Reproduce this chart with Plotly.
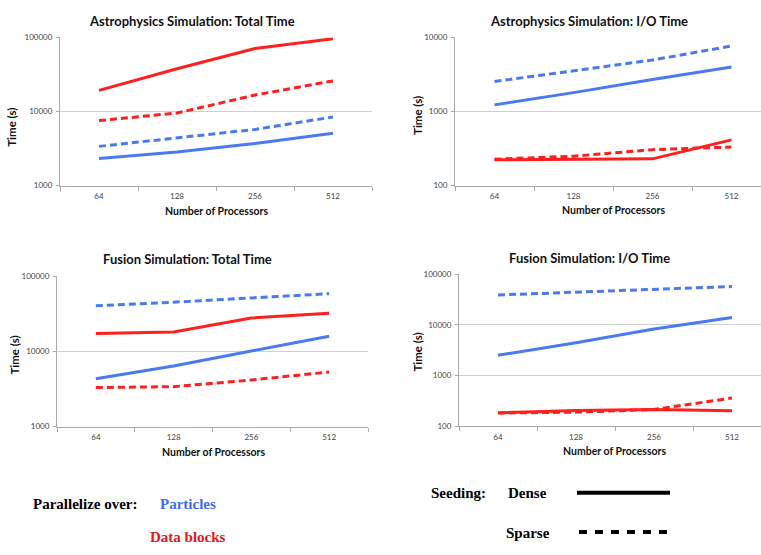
import plotly.graph_objects as go

processors = ["64", "128", "256", "512"]

# Astrophysics: Total Time
astro_total_particles_dense = [2330, 2850, 3720, 5090]
astro_total_particles_sparse = [3390, 4370, 5740, 8450]
astro_total_blocks_dense = [19300, 37700, 70800, 96000]
astro_total_blocks_sparse = [7550, 9550, 16700, 25900]

# Astrophysics: I/O Time
astro_io_particles_dense = [1230, 1800, 2700, 4000]
astro_io_particles_sparse = [2540, 3580, 4950, 7670]
astro_io_blocks_dense = [223, 226, 230, 415]
astro_io_blocks_sparse = [228, 250, 306, 332]

# Fusion: Total Time
fusion_total_particles_dense = [4310, 6370, 10100, 15800]
fusion_total_particles_sparse = [40300, 44900, 51200, 58200]
fusion_total_blocks_dense = [17200, 18100, 27700, 32000]
fusion_total_blocks_sparse = [3300, 3390, 4150, 5320]

# Fusion: I/O Time
fusion_io_particles_dense = [2510, 4430, 8260, 13900]
fusion_io_particles_sparse = [38700, 43600, 49700, 56800]
fusion_io_blocks_dense = [185, 204, 214, 202]
fusion_io_blocks_sparse = [182, 190, 214, 360]

titles = ["Astrophysics Simulation: Total Time", "Astrophysics Simulation: I/O Time",
          "Fusion Simulation: Total Time", "Fusion Simulation: I/O Time"]

BLUE = "#4a7af0"
RED = "#ff1f1f"
W, H = 761, 555

panels = [
    dict(data=[astro_total_particles_dense, astro_total_particles_sparse,
               astro_total_blocks_dense, astro_total_blocks_sparse],
         px=(60, 372), py=(33, 184), yr=(3, 5), xr=(-0.5, 3.5),
         title=(191.5, 16), ytitle=(12, 124), xtitle=(216, 210)),
    dict(data=[astro_io_particles_dense, astro_io_particles_sparse,
               astro_io_blocks_dense, astro_io_blocks_sparse],
         px=(455, 761), py=(33, 184), yr=(2, 4), xr=(-0.5, -0.5 + 306 / 79),
         title=(589, 16), ytitle=(418, 113), xtitle=(613, 209)),
    dict(data=[fusion_total_particles_dense, fusion_total_particles_sparse,
               fusion_total_blocks_dense, fusion_total_blocks_sparse],
         px=(57, 368), py=(276, 429.3), yr=(3, 5), xr=(-0.5, 3.5),
         title=(187.5, 259), ytitle=(15, 357), xtitle=(213, 455)),
    dict(data=[fusion_io_particles_dense, fusion_io_particles_sparse,
               fusion_io_blocks_dense, fusion_io_blocks_sparse],
         px=(459, 761), py=(274, 429), yr=(2, 5), xr=(-0.5, -0.5 + 302 / 78),
         title=(589.5, 258), ytitle=(418, 354), xtitle=(614, 454)),
]

fig = go.Figure()
annotations = []
TITLE_FONT = dict(family="Lato", size=13, color="#111")
AXT_FONT = dict(family="Lato", size=10.5, color="#111")
YT_FONT = dict(family="Lato", size=11.5, color="#111")
TICK_FONT = dict(family="Lato", size=8, color="#444")

def px2x(x):
    return x / W

def px2y(y):
    return 1 - y / H

for i, p in enumerate(panels):
    n = "" if i == 0 else str(i + 1)
    styles = [(BLUE, "solid"), (BLUE, "7px,4px"), (RED, "solid"), (RED, "7px,4px")]
    for vals, (c, d) in zip(p["data"], styles):
        fig.add_trace(go.Scatter(x=processors, y=vals, mode="lines",
                                 line=dict(color=c, width=3, dash=d),
                                 xaxis="x" + n, yaxis="y" + n, showlegend=False,
                                 cliponaxis=False))
    lo, hi = p["yr"]
    tv = [10 ** k for k in range(lo, hi + 1)]
    fig.layout["xaxis" + n] = dict(
        type="category", domain=[px2x(p["px"][0]), min(1, px2x(p["px"][1]))],
        range=list(p["xr"]), anchor="y" + n, tickson="boundaries", ticks="outside",
        ticklen=4, tickcolor="#aaa", showline=True, linecolor="#aaa", linewidth=1,
        showgrid=False, tickfont=TICK_FONT, zeroline=False, fixedrange=True,
        ticklabelstandoff=3)
    fig.layout["yaxis" + n] = dict(
        type="log", domain=[px2y(p["py"][1]), px2y(p["py"][0])], range=[lo, hi],
        anchor="x" + n, tickvals=tv, ticktext=[str(v) for v in tv],
        ticks="outside", ticklen=3, tickcolor="#aaa", showline=True,
        linecolor="#aaa", linewidth=1, showgrid=True, gridcolor="#cfcfcf",
        gridwidth=1, tickfont=TICK_FONT, zeroline=False, fixedrange=True,
        ticklabelstandoff=2)
    annotations.append(dict(text="<b>" + titles[i] + "</b>", x=px2x(p["title"][0]),
                            y=px2y(p["title"][1]), xref="paper", yref="paper",
                            showarrow=False, font=TITLE_FONT, xanchor="center", yanchor="middle"))
    annotations.append(dict(text="<b>Time (s)</b>", x=px2x(p["ytitle"][0]),
                            y=px2y(p["ytitle"][1]), xref="paper", yref="paper",
                            showarrow=False, font=YT_FONT, textangle=-90,
                            xanchor="center", yanchor="middle"))
    annotations.append(dict(text="<b>Number of Processors</b>", x=px2x(p["xtitle"][0]),
                            y=px2y(p["xtitle"][1]), xref="paper", yref="paper",
                            showarrow=False, font=AXT_FONT, xanchor="center", yanchor="middle"))

LEG_FONT = "Liberation Serif"
legend_texts = [
    ("Parallelize over:", 31, 508, "#000"),
    ("Particles", 158, 508, "#3d6cf5"),
    ("Data blocks", 148, 542, "#e8141c"),
    ("Seeding:", 429, 497, "#000"),
    ("Dense", 506, 497, "#000"),
    ("Sparse", 504, 538, "#000"),
]
for t, x, y, c in legend_texts:
    annotations.append(dict(text="<b>" + t + "</b>", x=px2x(x), y=px2y(y),
                            xref="paper", yref="paper", showarrow=False,
                            xanchor="left", yanchor="middle",
                            font=dict(family=LEG_FONT, size=15, color=c)))

shapes = [
    dict(type="line", xref="paper", yref="paper", x0=px2x(577), x1=px2x(670),
         y0=px2y(496.7), y1=px2y(496.7), line=dict(color="#000", width=4)),
    dict(type="line", xref="paper", yref="paper", x0=px2x(579), x1=px2x(671),
         y0=px2y(536.7), y1=px2y(536.7), line=dict(color="#000", width=4, dash="8px,8px")),
]

fig.update_layout(width=W, height=H, margin=dict(l=0, r=0, t=0, b=0),
                  paper_bgcolor="white", plot_bgcolor="white",
                  annotations=annotations, shapes=shapes, showlegend=False)

fig.write_html("out.html", config={"displayModeBar": False},
               post_script="document.body.style.margin='0';document.body.style.overflow='hidden';")
